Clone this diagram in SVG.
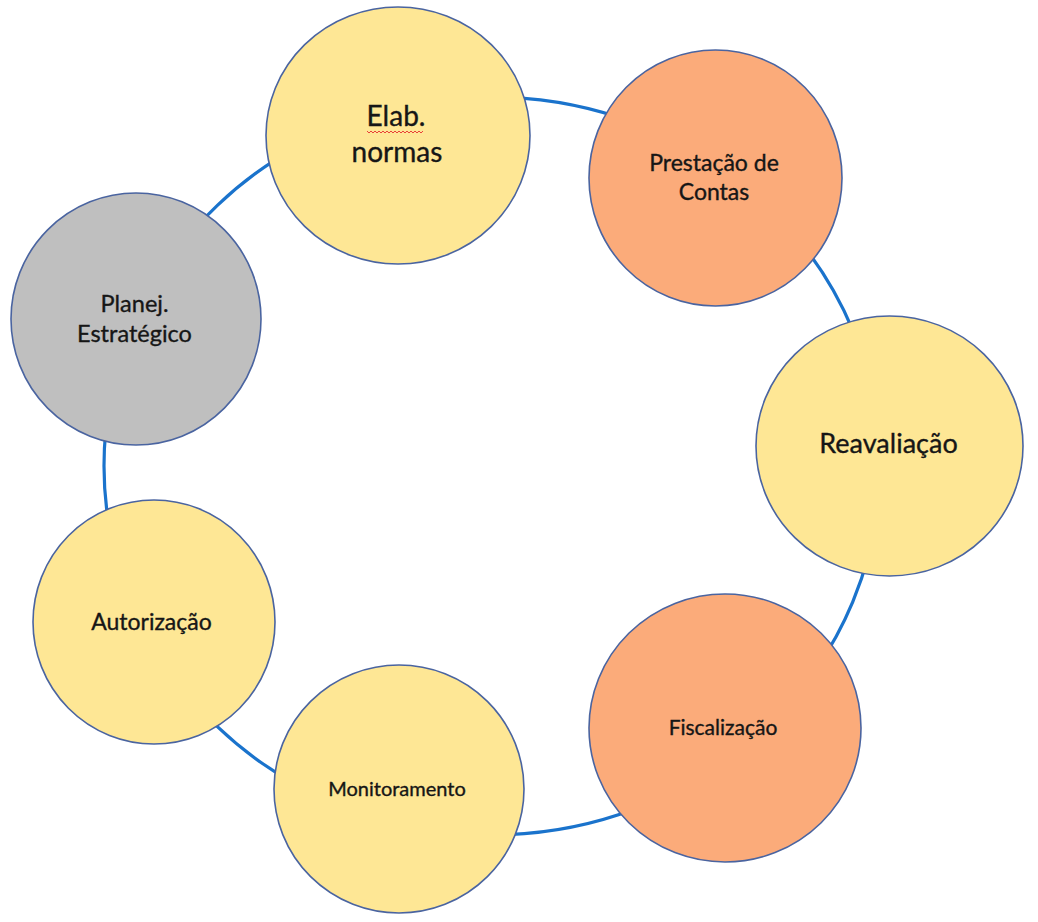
<svg xmlns="http://www.w3.org/2000/svg" width="1038" height="922" viewBox="0 0 1038 922">
<style>
.node{stroke:#4a64a0;stroke-width:1.6}
.yellow{fill:#fee795}
.orange{fill:#fbab7a}
.gray{fill:#bfbfbf}
.lbl{font-family:Lato,"Open Sans","Liberation Sans",sans-serif;fill:#161616;stroke:#161616;stroke-width:0.35;text-anchor:middle}
.ring{fill:none;stroke:#1a73cc;stroke-width:3.2}
</style>
<rect width="1038" height="922" fill="#ffffff"/>
<g id="connectors">
<ellipse class="ring" cx="492" cy="466" rx="388" ry="369"/>
</g>
<g id="node-elab">
<ellipse class="node yellow" cx="398" cy="135.5" rx="132" ry="128.5"/>
<text class="lbl" x="396" y="126" font-size="28">Elab.</text>
<text class="lbl" x="397" y="162" font-size="28">normas</text>
<polyline points="367,131 369,133 371,131 373,133 375,131 377,133 379,131 381,133 383,131 385,133 387,131 389,133 391,131 393,133 395,131 397,133 399,131 401,133 403,131 405,133 407,131 409,133 411,131 413,133 415,131 417,133 419,131 421,133 423,131" fill="none" stroke="#e8403a" stroke-width="1"/>
</g>
<g id="node-prestacao">
<ellipse class="node orange" cx="715.5" cy="178" rx="126.5" ry="128"/>
<text class="lbl" x="714" y="171" font-size="23">Prestação de</text>
<text class="lbl" x="714" y="200" font-size="23">Contas</text>
</g>
<g id="node-planej">
<ellipse class="node gray" cx="136" cy="319" rx="125" ry="126"/>
<text class="lbl" x="134.5" y="312" font-size="23.5">Planej.</text>
<text class="lbl" x="134.5" y="342" font-size="23.5">Estratégico</text>
</g>
<g id="node-reavaliacao">
<ellipse class="node yellow" cx="889.5" cy="446" rx="133.5" ry="130"/>
<text class="lbl" x="888.5" y="453" font-size="27">Reavaliação</text>
</g>
<g id="node-autorizacao">
<ellipse class="node yellow" cx="154" cy="622" rx="121" ry="122"/>
<text class="lbl" x="151.5" y="630" font-size="23">Autorização</text>
</g>
<g id="node-monitoramento">
<ellipse class="node yellow" cx="399" cy="789" rx="125" ry="124"/>
<text class="lbl" x="397" y="796" font-size="20">Monitoramento</text>
</g>
<g id="node-fiscalizacao">
<ellipse class="node orange" cx="725" cy="728" rx="136" ry="134"/>
<text class="lbl" x="723" y="735" font-size="21">Fiscalização</text>
</g>
</svg>
